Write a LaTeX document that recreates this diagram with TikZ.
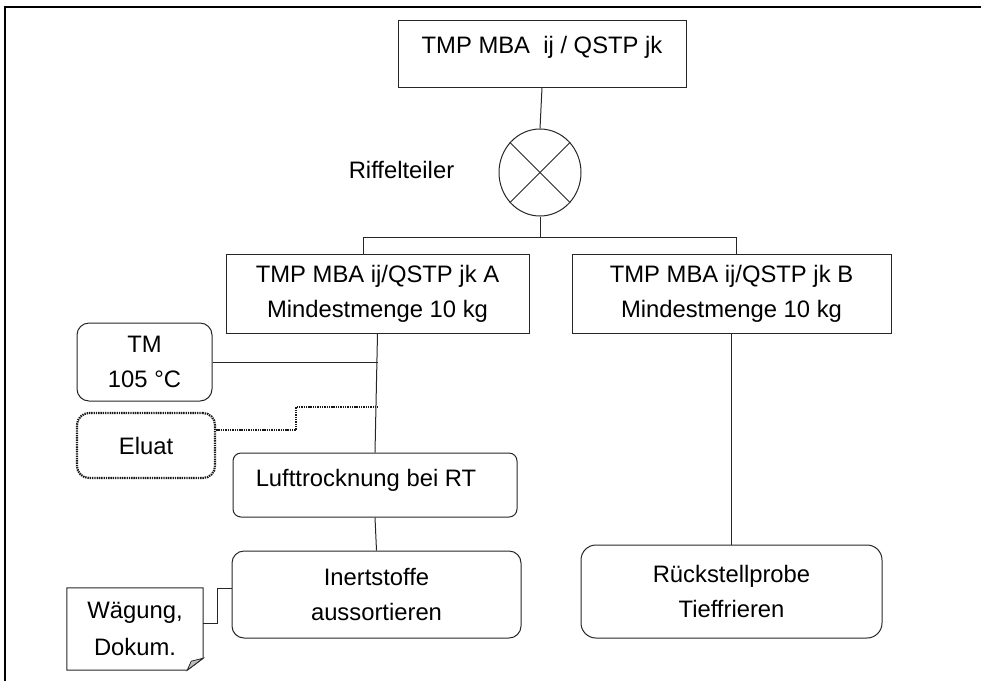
\documentclass[tikz,border=0pt]{standalone}
\usepackage{fontspec}
\setmainfont{Liberation Sans}
\usetikzlibrary{shapes.geometric}
\begin{document}
\begin{tikzpicture}[x=1pt,y=-1pt,
  every node/.style={font=\fontsize{23.8}{35}\selectfont, align=center, inner sep=0pt},
  ln/.style={line width=1pt, draw=black!85},
  sqbox/.style={rectangle, ln},
  rbox/.style={rectangle, ln, rounded corners=12pt},
  dotbox/.style={rectangle, draw=black!90, line width=2.2pt, dash pattern=on 1.4pt off 0.9pt, rounded corners=12pt},
  dotline/.style={draw=black!90, line width=2.2pt, dash pattern=on 1.4pt off 0.9pt}
]
\useasboundingbox (0,0) rectangle (981,681);
% frame
\draw[line width=1.3pt] (5,681) -- (5,7) -- (981,7);

% nodes
\node[sqbox, minimum width=288pt, minimum height=67pt, text depth=18pt] (top) at (542,53.5) {TMP MBA\ \ ij / QSTP jk};
\node[ellipse, ln, minimum width=82pt, minimum height=87pt] (riffle) at (540,172.5) {};
\node (rl) at (401.5,170) {Riffelteiler};
\node[sqbox, minimum width=303pt, minimum height=79pt] (a) at (377.5,293.5) {TMP MBA ij/QSTP jk A\\Mindestmenge 10 kg};
\node[sqbox, minimum width=319pt, minimum height=79pt] (b) at (731.5,293.5) {TMP MBA ij/QSTP jk B\\Mindestmenge 10 kg};
\node[rbox, minimum width=135pt, minimum height=78pt] (tm) at (144.5,362) {TM\\105 °C};
\node[dotbox, minimum width=138pt, minimum height=65pt] (el) at (146,445.5) {Eluat};
\node[rbox, rounded corners=8pt, minimum width=284pt, minimum height=64pt, text depth=14pt] (lt) at (375,485) {Lufttrocknung bei RT\hspace{18pt}};
\node[rbox, minimum width=289pt, minimum height=87pt] (in) at (376.5,594.5) {Inertstoffe\\aussortieren};
\node[rbox, rounded corners=15pt, minimum width=301pt, minimum height=93pt] (ru) at (731.5,591.5) {Rückstellprobe\\Tieffrieren};
\node[minimum width=136pt, minimum height=82pt, font=\fontsize{23.8}{37}\selectfont] (wg) at (135,629) {Wägung,\\Dokum.};

% note shape
\draw[ln] (wg.north west) -- (wg.north east) -- ([yshift=12pt]wg.south east)
  -- ([xshift=-16pt]wg.south east) -- (wg.south west) -- cycle;
\filldraw[ln, fill=black!25, line width=0.8pt] ([xshift=-16pt]wg.south east) -- ([xshift=-12pt,yshift=9pt]wg.south east) -- ([yshift=12pt]wg.south east) -- cycle;

% riffle cross
\draw[ln] (riffle.135) -- (riffle.-45);
\draw[ln] (riffle.45) -- (riffle.-135);

% connectors
\coordinate (bar) at (540,237);
\draw[ln] (top.south) -- (riffle.north);
\draw[ln] (riffle.south) -- (bar);
\draw[ln] (bar) -| ([xshift=-14.5pt]a.north);
\draw[ln] (bar) -| ([xshift=4.5pt]b.north);
\draw[ln] (a.south) -- (lt.north);
\draw[ln] (tm.east) -- (tm.east -| a.south);
\draw[dotline] ([yshift=15.5pt]el.east) -- ++(80,0) |- (a.south |- 0,407);
\draw[ln] (lt.south) -- (in.north);
\draw[ln] (b.south) -- (ru.north);
\draw[ln] ([yshift=6pt]wg.east) -- ++(14,0) |- ([yshift=6.5pt]in.west);
\end{tikzpicture}
\end{document}
